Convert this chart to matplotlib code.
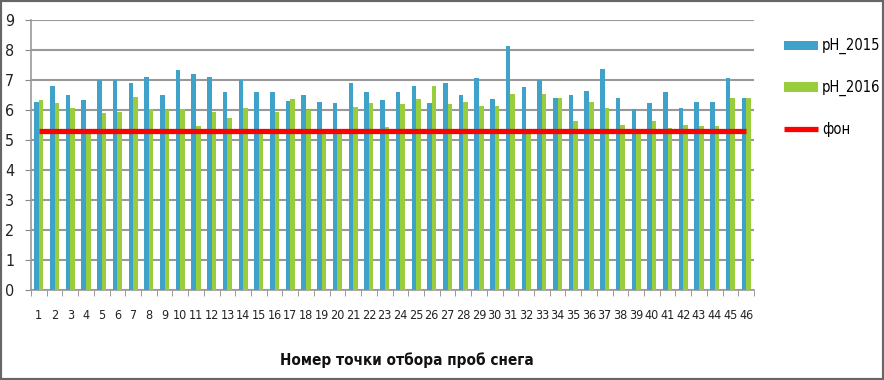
import matplotlib
matplotlib.use("Agg")
import matplotlib.pyplot as plt
import numpy as np
from matplotlib.patches import Rectangle

categories = [str(i) for i in range(1, 47)]
ph_2015 = [6.28, 6.80, 6.49, 6.33, 7.00, 7.00, 6.89, 7.09, 6.49, 7.32,
           7.19, 7.09, 6.59, 7.00, 6.59, 6.59, 6.30, 6.49, 6.28, 6.24,
           6.89, 6.59, 6.33, 6.59, 6.80, 6.24, 6.89, 6.49, 7.06, 6.37,
           8.13, 6.76, 7.00, 6.41, 6.49, 6.63, 7.36, 6.41, 6.02, 6.24,
           6.59, 6.08, 6.28, 6.28, 7.06, 6.41]
ph_2016 = [6.33, 6.24, 6.08, 5.30, 5.89, 5.94, 6.44, 6.02, 6.00, 6.02,
           5.47, 5.94, 5.73, 6.07, 5.30, 5.94, 6.37, 6.00, 5.25, 5.25,
           6.11, 6.24, 5.42, 6.20, 6.37, 6.80, 6.20, 6.28, 6.14, 6.14,
           6.53, 5.25, 6.53, 6.41, 5.64, 6.28, 6.07, 5.51, 5.25, 5.64,
           5.39, 5.51, 5.47, 5.47, 6.41, 6.41]
fon = [5.3] * 46
y_ticks = list(range(0, 10))

plt.rcParams['font.family'] = ['DejaVu Sans']
plt.rcParams['font.stretch'] = 'condensed'

blue = '#3FA3C9'
green = '#9ACD3C'

fig = plt.figure(figsize=(8.84, 3.80), dpi=100)
ax = fig.add_axes([31/884, 1 - 290/380, (754-31)/884, (290-20)/380])

x = np.arange(len(categories))
w = 0.29
b1 = ax.bar(x - w/2, ph_2015, width=w, color=blue, label='pH_2015', zorder=3)
b2 = ax.bar(x + w/2, ph_2016, width=w, color=green, label='pH_2016', zorder=3)
ln, = ax.plot(x, fon, color='#FF0000', lw=3.8, label='фон', zorder=4, solid_capstyle='butt')

ax.set_xlim(-0.5, len(categories) - 0.5)
ax.set_ylim(0, 9)
ax.set_yticks(y_ticks)
ax.set_yticklabels([str(t) for t in y_ticks], fontsize=11.5, color='#222222')
ax.set_xticks(x)
ax.set_xticklabels(categories, fontsize=9, color='#222222')
ax.set_xticks(np.arange(-0.5, len(categories), 1), minor=True)
ax.tick_params(axis='x', which='major', length=0, pad=14)
ax.tick_params(axis='x', which='minor', length=4, color='#888888', direction='out')
ax.tick_params(axis='y', length=4, color='#888888', pad=8)
ax.yaxis.grid(True, color='#999999', lw=1.5, zorder=0)
ax.set_axisbelow(True)
for s in ['top', 'right']:
    ax.spines[s].set_visible(False)
for s in ['left', 'bottom']:
    ax.spines[s].set_color('#999999')
    ax.spines[s].set_linewidth(1.2)

fig.text(407/884, 1 - 360/380, 'Номер точки отбора проб снега', ha='center', va='center',
         fontsize=11, fontweight='bold', color='#111111')

fig.legend(handles=[b1, b2, ln], labels=['pH_2015', 'pH_2016', 'фон'],
           loc='upper left', bbox_to_anchor=(777/884, 1 - 31/380), frameon=False,
           fontsize=10.5, handlelength=2.3, handleheight=0.6, labelspacing=1.75,
           handletextpad=0.3, borderpad=0)

fig.patches.append(Rectangle((0, 0), 1, 1, transform=fig.transFigure, fill=False,
                             edgecolor='#666666', lw=3, zorder=10))

fig.savefig('out.png', dpi=100)
